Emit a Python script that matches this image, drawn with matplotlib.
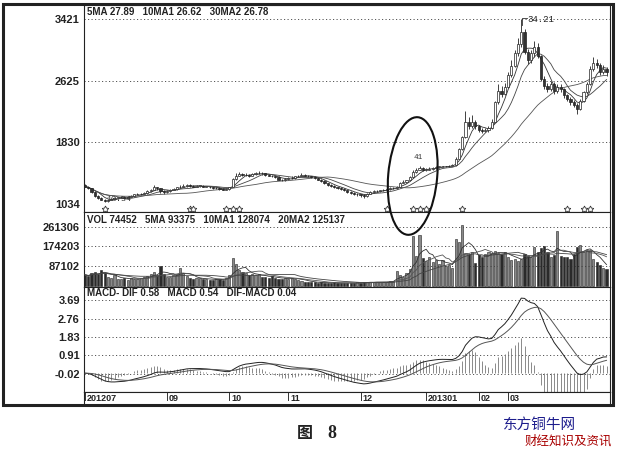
import numpy as np
import pandas as pd
import matplotlib
matplotlib.use("Agg")
import matplotlib.pyplot as plt
from matplotlib.patches import Ellipse, Rectangle
from matplotlib.transforms import blended_transform_factory

# daily bars, 2012-07 .. 2013-04 (price in yuan)
opens = [12.8, 12.6, 12.4, 11.9, 11.4, 11.1, 10.9, 10.7, 10.9, 11.0,
         11.1, 11.2, 11.2, 11.1, 11.3, 11.4, 11.6, 11.6, 11.7, 11.8,
         12.0, 12.2, 12.5, 12.4, 12.0, 11.9, 12.0, 12.2, 12.3, 12.5,
         12.6, 12.7, 12.8, 12.7, 12.6, 12.7, 12.7, 12.6, 12.6, 12.5,
         12.4, 12.4, 12.3, 12.2, 12.3, 12.6, 13.6, 14.0, 14.2, 14.1,
         14.1, 14.0, 14.2, 14.3, 14.4, 14.3, 14.1, 14.0, 13.9, 13.8,
         13.5, 13.4, 13.6, 13.7, 13.7, 13.9, 14.0, 14.1, 14.0, 13.9,
         13.8, 13.7, 13.5, 13.3, 13.0, 12.8, 12.7, 12.5, 12.4, 12.3,
         12.1, 11.9, 11.8, 11.6, 11.6, 11.5, 11.4, 11.7, 11.9, 12.0,
         12.0, 12.1, 12.2, 12.3, 12.4, 12.4, 12.6, 13.1, 13.2, 13.4,
         13.8, 14.5, 14.8, 15.0, 14.8, 14.8, 14.9, 15.0, 15.1, 15.2,
         15.2, 15.2, 15.3, 15.4, 16.2, 17.4, 19.0, 21.0, 20.4, 21.0,
         20.4, 19.9, 19.8, 19.9, 20.2, 21.0, 23.5, 25.0, 24.6, 25.5,
         27.0, 28.2, 29.8, 31.0, 32.6, 30.0, 29.0, 29.8, 30.6, 29.5,
         26.5, 25.6, 25.2, 25.9, 24.9, 25.4, 25.2, 24.4, 23.9, 23.5,
         23.2, 22.6, 23.7, 24.8, 25.9, 27.8, 28.6, 28.3, 27.4, 27.8]
highs = [12.9, 12.7, 12.4, 12.0, 11.5, 11.2, 11.0, 11.0, 11.1, 11.2,
         11.3, 11.4, 11.3, 11.4, 11.5, 11.7, 11.8, 11.8, 11.9, 12.1,
         12.3, 12.8, 12.6, 12.4, 12.1, 12.1, 12.3, 12.4, 12.6, 12.8,
         12.9, 12.9, 12.9, 12.8, 12.8, 12.8, 12.8, 12.7, 12.7, 12.6,
         12.5, 12.5, 12.4, 12.4, 12.6, 13.7, 14.3, 14.5, 14.4, 14.3,
         14.2, 14.3, 14.5, 14.6, 14.5, 14.4, 14.2, 14.1, 14.0, 13.9,
         13.6, 13.7, 13.8, 13.9, 14.0, 14.1, 14.3, 14.2, 14.1, 14.0,
         13.9, 13.8, 13.6, 13.4, 13.1, 12.9, 12.8, 12.6, 12.5, 12.4,
         12.2, 12.0, 11.9, 11.8, 11.7, 11.6, 11.8, 12.0, 12.1, 12.2,
         12.2, 12.3, 12.4, 12.5, 12.6, 12.7, 13.2, 13.4, 13.5, 13.9,
         14.7, 15.0, 15.3, 15.1, 15.0, 15.1, 15.1, 15.2, 15.3, 15.3,
         15.3, 15.4, 15.5, 16.4, 17.6, 19.1, 22.4, 21.6, 21.9, 21.2,
         20.6, 20.2, 20.2, 20.4, 21.3, 23.7, 25.9, 25.6, 26.0, 27.4,
         28.9, 30.2, 31.8, 34.21, 33.0, 30.4, 30.3, 31.4, 31.2, 29.6,
         26.9, 26.0, 26.3, 26.1, 25.8, 25.9, 25.3, 24.6, 24.2, 23.8,
         23.4, 23.9, 25.0, 26.1, 28.2, 29.4, 29.1, 28.6, 28.3, 28.1]
lows = [12.5, 12.3, 11.8, 11.3, 11.0, 10.8, 10.54, 10.6, 10.8, 10.9,
        11.0, 11.1, 11.0, 11.0, 11.2, 11.3, 11.5, 11.5, 11.6, 11.7,
        11.9, 12.1, 12.2, 11.8, 11.7, 11.8, 11.9, 12.1, 12.2, 12.4,
        12.5, 12.6, 12.6, 12.5, 12.5, 12.6, 12.5, 12.5, 12.4, 12.3,
        12.3, 12.2, 12.1, 12.1, 12.2, 12.5, 13.5, 13.9, 13.9, 13.9,
        13.8, 13.9, 14.1, 14.2, 14.1, 14.0, 13.9, 13.8, 13.7, 13.4,
        13.3, 13.3, 13.5, 13.6, 13.6, 13.8, 13.9, 13.9, 13.8, 13.7,
        13.6, 13.4, 13.2, 12.9, 12.7, 12.6, 12.4, 12.3, 12.1, 12.0,
        11.8, 11.6, 11.5, 11.4, 11.3, 11.1, 11.3, 11.6, 11.8, 11.9,
        11.9, 12.0, 12.1, 12.2, 12.3, 12.3, 12.5, 13.0, 13.1, 13.3,
        13.7, 14.4, 14.7, 14.6, 14.6, 14.7, 14.8, 14.9, 15.0, 15.1,
        15.1, 15.1, 15.2, 15.3, 16.1, 17.3, 18.9, 20.0, 20.2, 20.0,
        19.6, 19.5, 19.6, 19.7, 20.0, 20.9, 23.3, 24.2, 24.4, 25.3,
        26.8, 28.0, 29.5, 30.6, 29.7, 28.4, 28.6, 29.4, 29.2, 26.2,
        25.2, 24.8, 25.0, 24.6, 24.7, 24.8, 24.1, 23.6, 23.2, 22.9,
        22.0, 22.5, 23.5, 24.6, 25.7, 27.5, 27.9, 27.0, 27.1, 26.9]
closes = [12.6, 12.4, 11.9, 11.4, 11.1, 10.9, 10.7, 10.9, 11.0, 11.1,
          11.2, 11.2, 11.1, 11.3, 11.4, 11.6, 11.6, 11.7, 11.8, 12.0,
          12.2, 12.5, 12.4, 12.0, 11.9, 12.0, 12.2, 12.3, 12.5, 12.6,
          12.7, 12.8, 12.7, 12.6, 12.7, 12.7, 12.6, 12.6, 12.5, 12.4,
          12.4, 12.3, 12.2, 12.3, 12.5, 13.6, 14.0, 14.2, 14.1, 14.1,
          14.0, 14.2, 14.3, 14.4, 14.3, 14.1, 14.0, 13.9, 13.8, 13.5,
          13.4, 13.6, 13.7, 13.7, 13.9, 14.0, 14.1, 14.0, 13.9, 13.8,
          13.7, 13.5, 13.3, 13.0, 12.8, 12.7, 12.5, 12.4, 12.3, 12.1,
          11.9, 11.8, 11.6, 11.6, 11.5, 11.4, 11.7, 11.9, 12.0, 12.0,
          12.1, 12.2, 12.3, 12.4, 12.4, 12.6, 13.1, 13.2, 13.4, 13.8,
          14.5, 14.8, 15.0, 14.8, 14.8, 14.9, 15.0, 15.1, 15.2, 15.2,
          15.2, 15.3, 15.4, 16.2, 17.4, 19.0, 21.0, 20.4, 21.0, 20.4,
          19.9, 19.8, 19.9, 20.2, 21.0, 23.5, 25.0, 24.6, 25.5, 27.0,
          28.2, 29.8, 31.0, 32.6, 30.0, 29.0, 29.8, 30.6, 29.5, 26.5,
          25.6, 25.2, 25.9, 24.9, 25.4, 25.2, 24.4, 23.9, 23.5, 23.2,
          22.6, 23.7, 24.8, 25.9, 27.8, 28.6, 28.3, 27.4, 27.8, 27.4]
volumes = [48000, 42000, 55000, 60000, 52000, 70000, 58000, 40000, 36000, 45000,
           30000, 28000, 32000, 26000, 35000, 30000, 28000, 33000, 38000, 42000,
           50000, 62000, 48000, 89000, 52000, 40000, 38000, 45000, 50000, 80000,
           55000, 42000, 36000, 30000, 34000, 32000, 28000, 30000, 26000, 25000,
           28000, 30000, 27000, 35000, 45000, 122000, 95000, 70000, 62000, 55000,
           48000, 52000, 45000, 50000, 40000, 38000, 35000, 42000, 36000, 30000,
           28000, 32000, 30000, 34000, 30000, 26000, 22000, 18000, 16000, 15000,
           14000, 12000, 15000, 13000, 11000, 12000, 14000, 10000, 12000, 11000,
           13000, 12000, 10000, 14000, 12000, 15000, 18000, 16000, 14000, 17000,
           15000, 16000, 18000, 20000, 22000, 66000, 48000, 40000, 55000, 72000,
           220000, 130000, 225000, 122000, 110000, 125000, 105000, 115000, 98000, 112000,
           85000, 92000, 80000, 207000, 193000, 268000, 146000, 140000, 150000, 99000,
           136000, 128000, 140000, 150000, 145000, 152000, 146000, 140000, 148000, 127000,
           113000, 118000, 110000, 120000, 140000, 130000, 125000, 170000, 150000, 165000,
           175000, 150000, 127000, 135000, 242000, 130000, 125000, 128000, 120000, 140000,
           170000, 178000, 150000, 160000, 155865, 118000, 105000, 92000, 77423, 74452]

date_ticks = [0, 25, 44, 62, 84, 104, 120, 129]
date_labels = ["201207", "09", "10", "11", "12", "201301", "02", "03"]
signal_bars = [6, 32, 33, 43, 45, 47, 92, 100, 102, 104, 115, 147, 152, 154]

price_ticks = [34.21, 26.25, 18.30, 10.34]
price_labels = ["3421", "2625", "1830", "1034"]
vol_ticks = [261306, 174203, 87102]
macd_ticks = [3.69, 2.76, 1.83, 0.91, -0.02]
macd_labels = ["3.69", "2.76", "1.83", "0.91", "-0.02"]

price_title = "5MA 27.89   10MA1 26.62   30MA2 26.78"
vol_title = "VOL 74452   5MA 93375   10MA1 128074   20MA2 125137"
macd_title = "MACD- DIF 0.58   MACD 0.54   DIF-MACD 0.04"

W, H = 620, 454
fig = plt.figure(figsize=(W / 100, H / 100), dpi=100)
fig.patch.set_facecolor("white")

LEFT, RIGHT = 84, 610
bar_px = 3.28
x0 = 85


def panel(top, bottom):
    ax = fig.add_axes([LEFT / W, 1 - bottom / H, (RIGHT - LEFT) / W, (bottom - top) / H])
    ax.set_xlim((LEFT - x0) / bar_px, (RIGHT - x0) / bar_px)
    ax.set_xticks([])
    for sp in ax.spines.values():
        sp.set_color("#222")
        sp.set_linewidth(0.8)
    ax.tick_params(axis="y", length=0, pad=3)
    return ax


def label_font():
    return dict(family="Liberation Sans", weight="bold", size=8, color="#222")


def dotted(ax, levels):
    for v in levels:
        ax.axhline(v, color="#555", lw=0.7, ls=(0, (1.2, 2.4)), zorder=0.5)


ax_p = panel(5, 212)
ax_v = panel(212, 287)
ax_m = panel(287, 392)
ax_d = panel(392, 404)

o, h, l, c = (np.array(a, dtype=float) for a in (opens, highs, lows, closes))
vol = np.array(volumes, dtype=float)
x = np.arange(len(c))
up = c >= o

# price panel
ax_p.set_ylim(9.31, 36.06)
ax_p.set_yticks(price_ticks)
ax_p.set_yticklabels(price_labels, **label_font())
dotted(ax_p, price_ticks[:3])
ax_p.vlines(x, l, h, color="#222", lw=0.6, zorder=2)
body_lo = np.minimum(o, c)
body_h = np.maximum(np.abs(c - o), 0.05)
ax_p.bar(x[up], body_h[up], bottom=body_lo[up], width=0.65,
         facecolor="white", edgecolor="#222", lw=0.5, zorder=3)
ax_p.bar(x[~up], body_h[~up], bottom=body_lo[~up], width=0.65,
         facecolor="#333", edgecolor="#222", lw=0.5, zorder=3)
s = pd.Series(c)
for n, col in [(5, "#333"), (10, "#444"), (30, "#555")]:
    ax_p.plot(x, s.rolling(n, min_periods=1).mean(), color=col, lw=0.6, zorder=2.5)

bt = blended_transform_factory(ax_p.transData, ax_p.transAxes)
ax_p.plot(signal_bars, [0.016] * len(signal_bars), transform=bt, ls="none",
          marker=(5, 1, 0), ms=5, mfc="white", mec="#333", mew=0.6, clip_on=False)

ax_p.text(0.006, 0.966, price_title, transform=ax_p.transAxes, ha="left", va="center",
          family="Liberation Sans", weight="bold", size=7, color="#222")

peak = int(np.argmax(h))
ax_p.plot([peak + 0.2, peak + 0.2, peak + 1.7], [h[peak] - 0.7, h[peak] + 0.17, h[peak] + 0.17],
          color="#333", lw=0.6)
ax_p.text(peak + 1.9, h[peak] + 0.0, f"{h[peak]:.2f}", ha="left", va="center",
          family="Liberation Mono", size=6.5, color="#222")
trough = int(np.argmin(l))
ax_p.text(trough + 0.6, l[trough] + 0.4, f"{l[trough]:.2f}", ha="left", va="center",
          family="Liberation Mono", size=6, color="#333")
ax_p.text(101.5, 16.35, "41", ha="center", va="center",
          family="Liberation Mono", size=5.5, color="#333")

# volume panel
ax_v.set_ylim(-6000, 326470)
ax_v.set_yticks(vol_ticks)
ax_v.set_yticklabels([str(v) for v in vol_ticks], **label_font())
dotted(ax_v, vol_ticks)
ax_v.bar(x[up], vol[up], width=0.65, facecolor="#8a8a8a", edgecolor="#222", lw=0.4, zorder=2)
ax_v.bar(x[~up], vol[~up], width=0.65, facecolor="#2a2a2a", edgecolor="#222", lw=0.4, zorder=2)
vs = pd.Series(vol)
for n, col in [(5, "#333"), (10, "#555"), (20, "#444")]:
    ax_v.plot(x, vs.rolling(n, min_periods=1).mean(), color=col, lw=0.6, zorder=3)
ax_v.text(0.006, 0.893, vol_title, transform=ax_v.transAxes, ha="left", va="center",
          family="Liberation Sans", weight="bold", size=7, color="#222")

# macd panel
dif = s.ewm(span=12, adjust=False).mean() - s.ewm(span=26, adjust=False).mean()
dea = dif.ewm(span=9, adjust=False).mean()
hist = 2 * (dif - dea)
ax_m.set_ylim(-0.953, 4.364)
ax_m.set_yticks(macd_ticks)
ax_m.set_yticklabels(macd_labels, **label_font())
dotted(ax_m, macd_ticks)
ax_m.vlines(x, 0, hist, color="#777", lw=0.6, zorder=2)
ax_m.plot(x, dif, color="#222", lw=0.7, zorder=3)
ax_m.plot(x, dea, color="#555", lw=0.7, zorder=3)
ax_m.text(0.006, 0.94, macd_title, transform=ax_m.transAxes, ha="left", va="center",
          family="Liberation Sans", weight="bold", size=7, color="#222")

# date strip
ax_d.set_ylim(0, 1)
ax_d.set_yticks([])
ax_d.spines["bottom"].set_visible(False)
for t, lab in zip(date_ticks, date_labels):
    ax_d.plot([t, t], [1, 0.3], color="#333", lw=0.7)
    ax_d.text(t + 0.5, 0.45, lab, ha="left", va="center",
              family="Liberation Sans", weight="bold", size=6.5, color="#222")

# outer frame
fig.add_artist(Rectangle((2.5 / W, 1 - 405 / H), 610 / W, 401.5 / H, transform=fig.transFigure,
                         fill=False, lw=2.2, edgecolor="#222"))

# hand-drawn ellipse around the breakout
fig.add_artist(Ellipse((4.127, (H - 176) / 100), 0.49, 1.18, angle=-5,
                       transform=fig.dpi_scale_trans, fill=False, lw=1.5, edgecolor="#111"))

fig.text(305 / W, 1 - 433 / H, "图", ha="center", va="center",
         family=["Noto Sans CJK SC", "DejaVu Sans"], weight="bold", size=11.5, color="#222")
fig.text(332 / W, 1 - 433 / H, "8", ha="center", va="center",
         family="Liberation Serif", weight="bold", size=13, color="#222")
fig.text(540 / W, 1 - 425 / H, "东方铜牛网", ha="center", va="center",
         family=["Noto Sans CJK SC", "DejaVu Sans"], size=10.5, color="#1c1c8c")
fig.text(568 / W, 1 - 441 / H, "财经知识及资讯", ha="center", va="center",
         family=["Noto Sans CJK SC", "DejaVu Sans"], size=9, color="#a80000")

fig.savefig("out.png", dpi=100, facecolor="white")
